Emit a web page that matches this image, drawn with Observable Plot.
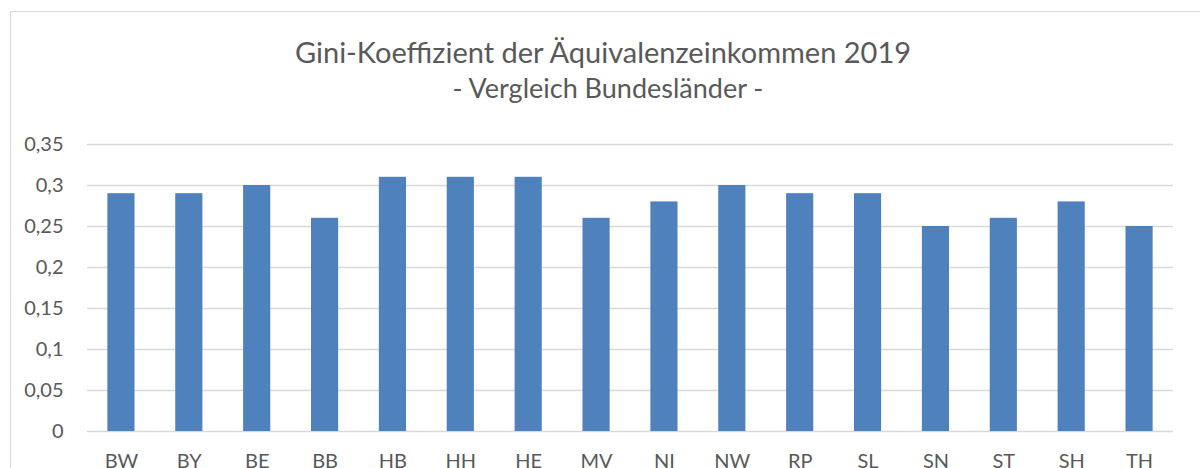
<!DOCTYPE html>
<html>
<head>
<meta charset="utf-8">
<script src="https://cdn.jsdelivr.net/npm/d3@7"></script>
<script src="https://cdn.jsdelivr.net/npm/@observablehq/plot@0.6"></script>
<style>
  html, body { margin: 0; padding: 0; background: #fff; overflow: hidden; }
  body { width: 1200px; height: 468px; position: relative; font-family: Lato, "Open Sans", sans-serif; }
  #frame { position: absolute; left: 10px; top: 11px; width: 1220px; height: 520px; border: 1px solid #d9d9d9; box-sizing: border-box; }
  #title { position: absolute; left: 0; width: 1206px; top: 37px; line-height: 1; text-align: center; font-size: 29px; color: #595959; white-space: nowrap; }
  #subtitle { position: absolute; left: 0; width: 1216px; top: 74px; line-height: 1; text-align: center; font-size: 27px; color: #595959; white-space: nowrap; }
  #chart { position: absolute; left: 0; top: 0; }
</style>
</head>
<body>
<div id="frame"></div>
<div id="title">Gini-Koeffizient der Äquivalenzeinkommen 2019</div>
<div id="subtitle">- Vergleich Bundesländer -</div>
<div id="chart"></div>
<script>
const states = ["BW","BY","BE","BB","HB","HH","HE","MV","NI","NW","RP","SL","SN","ST","SH","TH"];
const gini = [0.29,0.29,0.30,0.26,0.31,0.31,0.31,0.26,0.28,0.30,0.29,0.29,0.25,0.26,0.28,0.25];
const yTicks = [0,0.05,0.1,0.15,0.2,0.25,0.3,0.35];

const data = states.map((s, i) => ({state: s, value: gini[i]}));
const fmt = d => String(d).replace(".", ",");

const plot = Plot.plot({
  width: 1200,
  height: 468,
  marginLeft: 87,
  marginRight: 27,
  marginTop: 144,
  marginBottom: 37,
  style: {fontFamily: "Lato, 'Open Sans', sans-serif", fontSize: "20px", color: "#595959", background: "transparent"},
  x: {domain: states, paddingInner: 0.6, paddingOuter: 0.3, round: false, label: null},
  y: {domain: [0, 0.35], label: null},
  marks: [
    Plot.ruleY(yTicks, {stroke: "#d9d9d9", strokeWidth: 1.5}),
    Plot.barY(data, {x: "state", y: "value", fill: "#4f81bd"}),
    Plot.axisY({ticks: yTicks, tickFormat: fmt, tickSize: 0, tickPadding: 24, label: null, fill: "#595959"}),
    Plot.axisX({tickSize: 0, tickPadding: 22, label: null, fill: "#595959"})
  ]
});
document.getElementById("chart").appendChild(plot);
</script>
</body>
</html>
